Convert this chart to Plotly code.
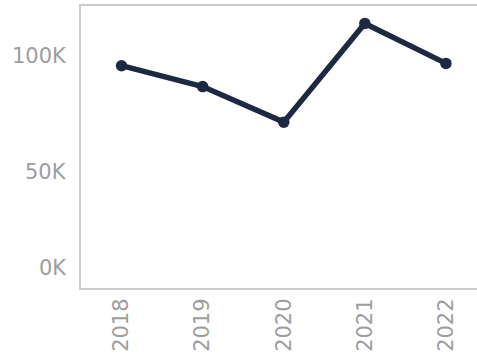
import plotly.graph_objects as go

years = ["2018", "2019", "2020", "2021", "2022"]
values = [95700, 86700, 71400, 113900, 96700]
ytick_vals = [0, 50000, 100000]
ytick_text = ["0K", "50K", "100K"]

LINE = "#1d2942"
GRAY = "#9d9d9d"
FONT = "DejaVu Sans"

fig = go.Figure()
fig.add_trace(go.Scatter(
    x=list(range(len(years))), y=values, mode="lines+markers",
    line=dict(color=LINE, width=5.5),
    marker=dict(color=LINE, size=11.5),
    hoverinfo="skip", showlegend=False,
))

for v, t in zip(ytick_vals, ytick_text):
    fig.add_annotation(
        x=0, xref="paper", y=v, yref="y", text=t, showarrow=False,
        xanchor="right", yanchor="middle", xshift=-12,
        yshift=20 if v == 0 else 0,
        font=dict(family=FONT, size=21, color=GRAY),
    )

fig.update_xaxes(
    range=[-0.5, 4.383],
    tickvals=list(range(len(years))), ticktext=years,
    tickangle=-90, tickfont=dict(family=FONT, size=21, color=GRAY),
    showgrid=False, zeroline=False,
    showline=True, linecolor="#cccccc", linewidth=2, mirror=True,
    ticks="", ticklen=0,
)
fig.update_yaxes(
    range=[0, 121400], tickvals=ytick_vals, showticklabels=False,
    showgrid=False, zeroline=False,
    showline=True, linecolor="#cccccc", linewidth=2, mirror=False,
    ticks="",
)
fig.update_layout(
    width=477, height=356,
    margin=dict(l=81, r=0, t=6, b=68),
    paper_bgcolor="white", plot_bgcolor="white",
)
fig.write_html("out.html")
